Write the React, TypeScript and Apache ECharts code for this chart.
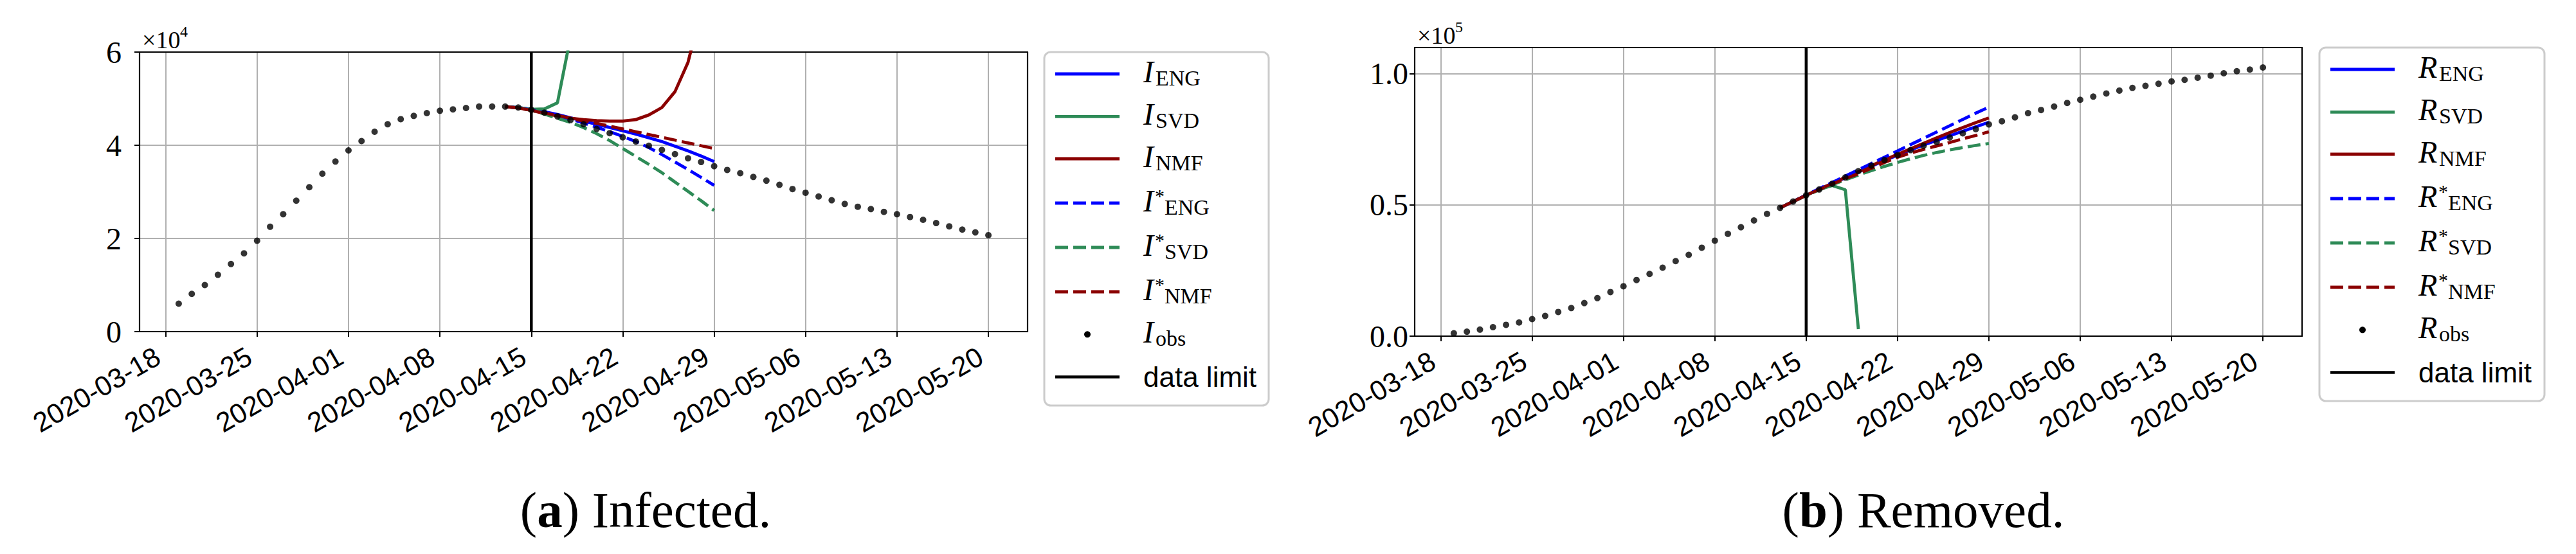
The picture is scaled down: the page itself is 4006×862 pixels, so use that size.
import React, { useEffect, useRef } from "react";
import * as echarts from "echarts";

// ---------------- data ----------------
const FIRST_DAY = "2020-03-16"; // left edge of the x range
const LAST_DAY = "2020-05-23"; // right edge of the x range
const TICK_DATES = [
  "2020-03-18", "2020-03-25", "2020-04-01", "2020-04-08", "2020-04-15",
  "2020-04-22", "2020-04-29", "2020-05-06", "2020-05-13", "2020-05-20",
];
const LIMIT_DATE = "2020-04-15";
const OBS_START = "2020-03-19";
const MODEL_START = "2020-04-13";

// Infected, in units of 1e4
const infectedObs = [
  0.60, 0.81, 1.00, 1.22, 1.45, 1.68, 1.95, 2.25, 2.52, 2.81, 3.10, 3.39, 3.65,
  3.89, 4.09, 4.29, 4.45, 4.56, 4.63, 4.69, 4.74, 4.77, 4.80, 4.83, 4.83, 4.83, 4.81, 4.76,
  4.70, 4.62, 4.54, 4.45, 4.35, 4.26, 4.17, 4.08, 3.99, 3.90, 3.81, 3.72, 3.64, 3.55, 3.47,
  3.40, 3.32, 3.24, 3.15, 3.06, 2.98, 2.90, 2.82, 2.74, 2.68, 2.63, 2.57, 2.52, 2.46, 2.40,
  2.33, 2.26, 2.19, 2.13, 2.07,
];
const infectedENG = [4.83, 4.81, 4.77, 4.72, 4.66, 4.59, 4.52, 4.45, 4.38, 4.31, 4.24, 4.16, 4.08, 3.98, 3.88, 3.77, 3.65];
const infectedSVD = [4.83, 4.81, 4.77, 4.78, 4.91, 6.32];
const infectedNMF = [4.83, 4.80, 4.75, 4.68, 4.63, 4.58, 4.55, 4.53, 4.52, 4.52, 4.55, 4.65, 4.81, 5.15, 5.78, 6.9];
const infectedENGstar = [4.83, 4.80, 4.76, 4.70, 4.63, 4.56, 4.48, 4.39, 4.29, 4.19, 4.08, 3.95, 3.80, 3.64, 3.48, 3.31, 3.14];
const infectedSVDstar = [4.83, 4.80, 4.75, 4.67, 4.58, 4.49, 4.38, 4.25, 4.10, 3.93, 3.76, 3.59, 3.41, 3.21, 3.01, 2.81, 2.60];
const infectedNMFstar = [4.83, 4.80, 4.75, 4.69, 4.64, 4.58, 4.52, 4.47, 4.41, 4.35, 4.29, 4.23, 4.17, 4.11, 4.05, 3.99, 3.93];

// Removed, in units of 1e5
const removedObs = [
  0.011, 0.017, 0.025, 0.034, 0.043, 0.052, 0.065, 0.077, 0.092, 0.107, 0.126, 0.145, 0.168,
  0.190, 0.214, 0.237, 0.261, 0.286, 0.310, 0.337, 0.364, 0.390, 0.415, 0.441, 0.466, 0.489, 0.513, 0.537,
  0.559, 0.581, 0.605, 0.629, 0.650, 0.671, 0.690, 0.709, 0.726, 0.740, 0.757, 0.773, 0.789, 0.807, 0.819,
  0.834, 0.850, 0.862, 0.875, 0.889, 0.901, 0.913, 0.925, 0.936, 0.946, 0.954, 0.962, 0.971, 0.977, 0.985,
  0.993, 1.002, 1.010, 1.016, 1.024,
];
const removedENG = [0.489, 0.513, 0.537, 0.560, 0.582, 0.604, 0.626, 0.648, 0.669, 0.690, 0.710, 0.729, 0.746, 0.764, 0.781, 0.798, 0.815];
const removedSVD = [0.489, 0.513, 0.537, 0.559, 0.574, 0.558, 0.027];
const removedNMF = [0.489, 0.513, 0.537, 0.560, 0.582, 0.605, 0.627, 0.650, 0.672, 0.693, 0.714, 0.735, 0.756, 0.776, 0.795, 0.814, 0.832];
const removedENGstar = [0.489, 0.513, 0.538, 0.562, 0.586, 0.610, 0.634, 0.658, 0.682, 0.706, 0.730, 0.754, 0.778, 0.802, 0.826, 0.850, 0.873];
const removedSVDstar = [0.489, 0.513, 0.536, 0.557, 0.577, 0.596, 0.614, 0.631, 0.647, 0.662, 0.676, 0.689, 0.700, 0.710, 0.719, 0.727, 0.734];
const removedNMFstar = [0.489, 0.513, 0.537, 0.559, 0.580, 0.600, 0.619, 0.640, 0.662, 0.682, 0.698, 0.712, 0.725, 0.738, 0.752, 0.765, 0.779];

const METHODS = ["ENG", "SVD", "NMF"];
const CAPTION_A = ["a", "Infected."];
const CAPTION_B = ["b", "Removed."];
const RIGHT_Y_TICKS = [0, 0.5, 1.0];

// ---------------- helpers ----------------
const DAY_MS = 86400000;
function isoDay(ms: number) {
  return new Date(ms).toISOString().slice(0, 10);
}
function dayRange(from: string, to: string) {
  const out: string[] = [];
  const a = Date.parse(from + "T00:00:00Z");
  const b = Date.parse(to + "T00:00:00Z");
  for (let t = a; t <= b; t += DAY_MS) out.push(isoDay(t));
  return out;
}
const DAYS = dayRange(FIRST_DAY, LAST_DAY);
function pairs(start: string, values: number[]) {
  const a = Date.parse(start + "T00:00:00Z");
  return values.map((v, i) => [isoDay(a + i * DAY_MS), v]);
}

const BLUE = "#0000ff";
const GREEN = "#2e8b57";
const RED = "#8b0000";
const COLORS = [BLUE, GREEN, RED];
const DASH = [20, 8];
const LW = 4.8;
const SERIF = '"Liberation Serif", "Times New Roman", serif';
const SANS = '"Liberation Sans", Arial, sans-serif';
const GRIDS = [
  { left: 217, top: 81, width: 1381, height: 435 },
  { left: 2200, top: 74, width: 1380, height: 449 },
];
const isTick = (_i: number, v: string) => TICK_DATES.includes(v);

function mainX(g: number) {
  return {
    type: "category", gridIndex: g, data: DAYS, boundaryGap: false, position: "bottom", z: 1,
    axisLine: { show: true, onZero: false, lineStyle: { color: "#000", width: 2.2 } },
    axisTick: { show: true, inside: false, length: 8, interval: isTick, lineStyle: { color: "#000", width: 2 } },
    axisLabel: {
      show: true, interval: isTick, rotate: 30, margin: 28, padding: [0, 14, 0, 0],
      fontFamily: SANS, fontSize: 43, color: "#000",
    },
    splitLine: { show: true, interval: isTick, lineStyle: { color: "#b0b0b0", width: 2 } },
  };
}
function frameX(g: number) {
  return {
    type: "category", gridIndex: g, data: DAYS, boundaryGap: false, position: "top", z: 1,
    axisLine: { show: true, onZero: false, lineStyle: { color: "#000", width: 2.2 } },
    axisTick: { show: false }, axisLabel: { show: false }, splitLine: { show: false },
  };
}
function frameY(g: number, max: number) {
  return {
    type: "value", gridIndex: g, position: "right", min: 0, max, z: 1,
    axisLine: { show: true, onZero: false, lineStyle: { color: "#000", width: 2.2 } },
    axisTick: { show: false }, axisLabel: { show: false }, splitLine: { show: false },
  };
}

function panelSeries(g: number, models: number[][], obs: number[], top: number) {
  const out: any[] = [];
  models.forEach((vals, k) => {
    const star = k >= 3;
    out.push({
      type: "line", xAxisIndex: g, yAxisIndex: g, data: pairs(MODEL_START, vals),
      symbol: "none", showSymbol: false, z: 2,
      lineStyle: { color: COLORS[k % 3], width: LW, type: star ? DASH : "solid", cap: "butt" },
      itemStyle: { color: COLORS[k % 3] },
    });
  });
  out.push({
    type: "scatter", xAxisIndex: g, yAxisIndex: g, data: pairs(OBS_START, obs),
    symbol: "circle", symbolSize: 10, itemStyle: { color: "#000" }, z: 3,
  });
  out.push({
    type: "line", xAxisIndex: g, yAxisIndex: g,
    data: [[LIMIT_DATE, 0], [LIMIT_DATE, top]],
    symbol: "none", showSymbol: false, z: 3,
    lineStyle: { color: "#000", width: 4.5 },
  });
  return out;
}

const ROW_OFFSETS = [34, 100.4, 166, 235, 304, 373, 439.3, 505.4];
function legendGraphic(box: { x: number; y: number; w: number; h: number }, letter: string) {
  const els: any[] = [];
  els.push({
    type: "rect", shape: { x: box.x, y: box.y, width: box.w, height: box.h, r: 10 },
    style: { fill: "#fff", stroke: "#cccccc", lineWidth: 3 }, z: 10,
  });
  const sx1 = box.x + 17, sx2 = box.x + 117, tx = box.x + 154;
  const subDx = letter === "I" ? 19 : 32;
  for (let k = 0; k < 8; k++) {
    const ry = box.y + ROW_OFFSETS[k];
    if (k < 6) {
      const star = k >= 3;
      els.push({
        type: "line", shape: { x1: sx1, y1: ry, x2: sx2, y2: ry },
        style: { stroke: COLORS[k % 3], lineWidth: LW, lineDash: star ? DASH : null }, z: 11,
      });
    } else if (k === 6) {
      els.push({ type: "circle", shape: { cx: (sx1 + sx2) / 2, cy: ry, r: 5 }, style: { fill: "#000" }, z: 11 });
    } else {
      els.push({
        type: "line", shape: { x1: sx1, y1: ry, x2: sx2, y2: ry },
        style: { stroke: "#000", lineWidth: 4.5 }, z: 11,
      });
    }
    if (k < 7) {
      const star = k >= 3 && k < 6;
      const sub = k === 6 ? "obs" : METHODS[k % 3];
      els.push({
        type: "text", x: tx, y: ry - 3.6, z: 11,
        style: { text: letter, fontFamily: SERIF, fontStyle: "italic", fontSize: 48, fill: "#000", align: "left", verticalAlign: "middle" },
      });
      if (star) {
        els.push({
          type: "text", x: tx + subDx - 1, y: ry - 12, z: 11,
          style: { text: "*", fontFamily: SERIF, fontSize: 30, fill: "#000", align: "left", verticalAlign: "middle" },
        });
      }
      els.push({
        type: "text", x: tx + subDx + (star ? 14 : 0), y: ry + 6.5, z: 11,
        style: { text: sub, fontFamily: SERIF, fontSize: 34, fill: "#000", align: "left", verticalAlign: "middle" },
      });
    } else {
      els.push({
        type: "text", x: tx, y: ry, z: 11,
        style: { text: "data limit", fontFamily: SANS, fontSize: 44, fill: "#000", align: "left", verticalAlign: "middle" },
      });
    }
  }
  return els;
}

function scaleLabel(g: { left: number; top: number }, exp: string) {
  return [
    {
      type: "text", x: g.left + 4, y: g.top - 19,
      style: { text: "×10", fontFamily: SERIF, fontSize: 38, fill: "#000", align: "left", verticalAlign: "middle" },
    },
    {
      type: "text", x: g.left + 63, y: g.top - 32,
      style: { text: exp, fontFamily: SERIF, fontSize: 24, fill: "#000", align: "left", verticalAlign: "middle" },
    },
  ];
}

function caption(cx: number, parts: string[]) {
  return {
    type: "text", x: cx, y: 793,
    style: {
      text: "({b|" + parts[0] + "}) " + parts[1],
      fontFamily: SERIF, fontSize: 79, fill: "#000", align: "center", verticalAlign: "middle",
      rich: { b: { fontFamily: SERIF, fontSize: 79, fontWeight: "bold", fill: "#000" } },
    },
  };
}

function buildOption() {
  const yLeft = {
    type: "value", gridIndex: 0, min: 0, max: 6, interval: 2, z: 1,
    axisLine: { show: true, onZero: false, lineStyle: { color: "#000", width: 2.2 } },
    axisTick: { show: true, length: 8, lineStyle: { color: "#000", width: 2 } },
    axisLabel: { margin: 28, fontFamily: SERIF, fontSize: 48, color: "#000" },
    splitLine: { show: true, showMinLine: false, showMaxLine: false, lineStyle: { color: "#b0b0b0", width: 2 } },
  };
  const yRight = {
    type: "value", gridIndex: 1, min: 0, max: 1.1, interval: 0.5, z: 1,
    axisLine: { show: true, onZero: false, lineStyle: { color: "#000", width: 2.2 } },
    axisTick: { show: true, length: 8, customValues: RIGHT_Y_TICKS, lineStyle: { color: "#000", width: 2 } },
    axisLabel: {
      margin: 10, fontFamily: SERIF, fontSize: 48, color: "#000",
      customValues: RIGHT_Y_TICKS, formatter: (v: number) => v.toFixed(1),
    },
    splitLine: { show: true, showMinLine: false, showMaxLine: true, lineStyle: { color: "#b0b0b0", width: 2 } },
  };
  return {
    animation: false,
    backgroundColor: "#fff",
    grid: GRIDS.map((g) => ({ ...g, containLabel: false })),
    xAxis: [mainX(0), mainX(1), frameX(0), frameX(1)],
    yAxis: [yLeft, yRight, frameY(0, 6), frameY(1, 1.1)],
    series: [
      ...panelSeries(0, [infectedENG, infectedSVD, infectedNMF, infectedENGstar, infectedSVDstar, infectedNMFstar], infectedObs, 6),
      ...panelSeries(1, [removedENG, removedSVD, removedNMF, removedENGstar, removedSVDstar, removedNMFstar], removedObs, 1.1),
    ],
    graphic: [
      ...legendGraphic({ x: 1624, y: 81, w: 349, h: 550 }, "I"),
      ...legendGraphic({ x: 3607, y: 74, w: 350, h: 550 }, "R"),
      ...scaleLabel(GRIDS[0], "4"),
      ...scaleLabel(GRIDS[1], "5"),
      caption(1004, CAPTION_A),
      caption(2991, CAPTION_B),
    ],
  };
}

export default function App() {
  const ref = useRef<HTMLDivElement>(null);
  useEffect(() => {
    if (!ref.current) return;
    const chart = echarts.init(ref.current, null, { renderer: "svg" });
    chart.setOption(buildOption() as any);
    return () => chart.dispose();
  }, []);
  return (
    <div
      ref={ref}
      style={{ position: "fixed", left: 0, top: 0, width: 4006, height: 862, background: "#fff" }}
    />
  );
}
